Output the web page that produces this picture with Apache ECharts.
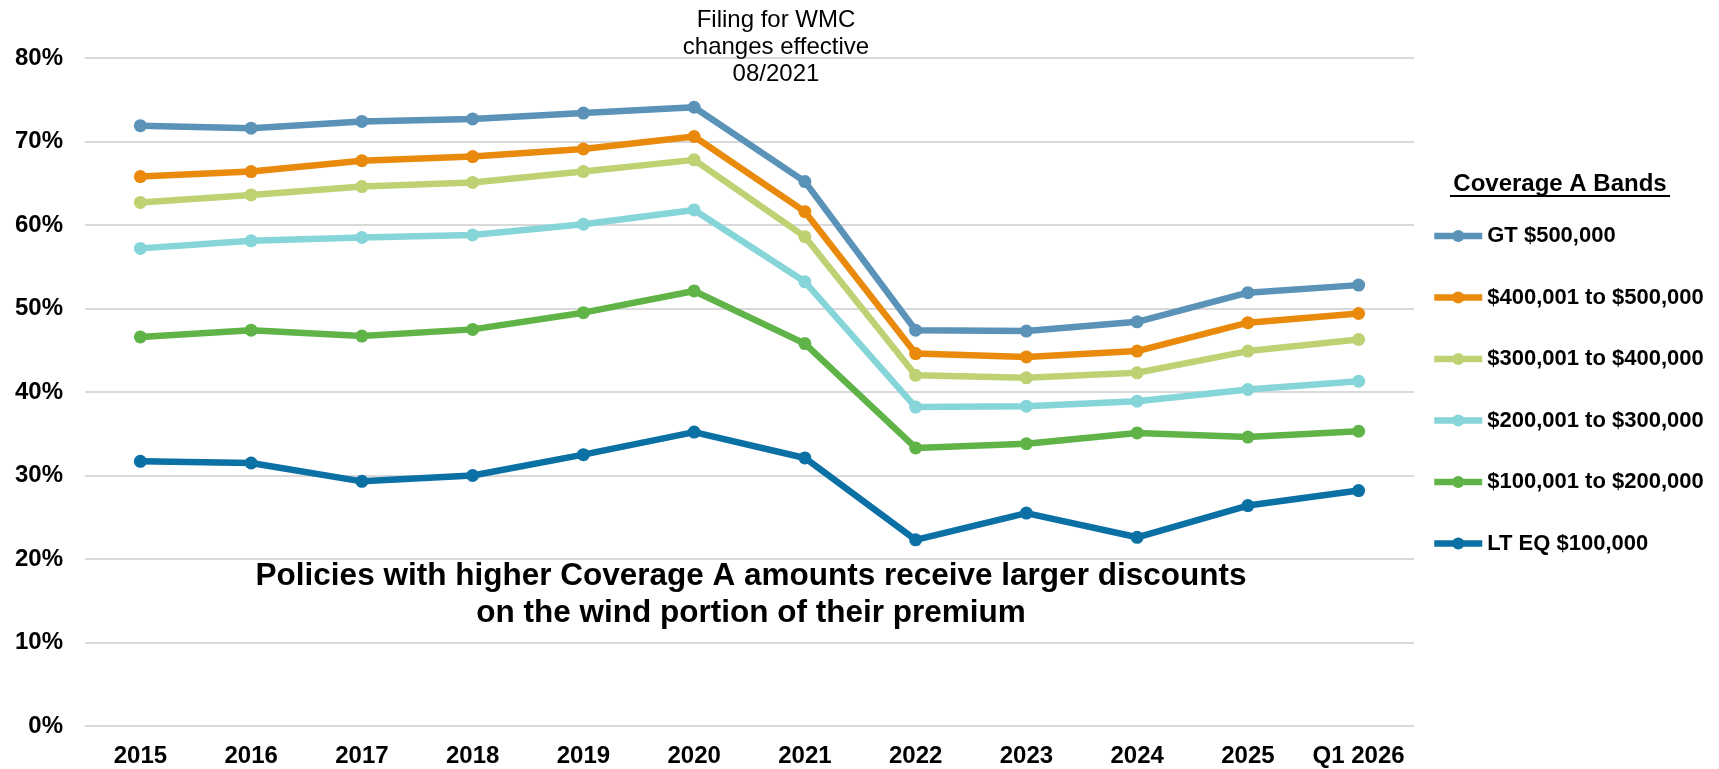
<!DOCTYPE html>
<html>
<head>
    <meta charset="utf-8">
    <title>Coverage A Bands</title>
    <script src="https://cdn.jsdelivr.net/npm/echarts@6/dist/echarts.min.js"></script>
    <style>
        html, body { margin: 0; padding: 0; background: #fff; }
        #main { width: 1719px; height: 769px; }
    </style>
</head>
<body>
<div id="main"></div>
<script type="text/javascript">
    // categories and series values (percent)
    var years = ['2015', '2016', '2017', '2018', '2019', '2020', '2021', '2022', '2023', '2024', '2025', 'Q1 2026'];
    var yTicks = [0, 10, 20, 30, 40, 50, 60, 70, 80];

    var bandNames = ['GT $500,000', '$400,001 to $500,000', '$300,001 to $400,000',
        '$200,001 to $300,000', '$100,001 to $200,000', 'LT EQ $100,000'];

    var gt500 = [71.9, 71.6, 72.4, 72.7, 73.4, 74.1, 65.2, 47.4, 47.3, 48.4, 51.9, 52.8];
    var b400to500 = [65.8, 66.4, 67.7, 68.2, 69.1, 70.6, 61.6, 44.6, 44.2, 44.9, 48.3, 49.4];
    var b300to400 = [62.7, 63.6, 64.6, 65.1, 66.4, 67.8, 58.6, 42.0, 41.7, 42.3, 44.9, 46.3];
    var b200to300 = [57.2, 58.1, 58.5, 58.8, 60.1, 61.8, 53.2, 38.2, 38.3, 38.9, 40.3, 41.3];
    var b100to200 = [46.6, 47.4, 46.7, 47.5, 49.5, 52.1, 45.8, 33.3, 33.8, 35.1, 34.6, 35.3];
    var lte100 = [31.7, 31.5, 29.3, 30.0, 32.5, 35.2, 32.1, 22.3, 25.5, 22.6, 26.4, 28.2];

    var colors = ['#5b92b8', '#e98a0c', '#bed274', '#86d5d8', '#60b447', '#0b70a4'];
    var seriesData = [gt500, b400to500, b300to400, b200to300, b100to200, lte100];

    var font = 'Arial, "Liberation Sans", sans-serif';

    var myChart = echarts.init(document.getElementById('main'));

    var series = [];
    for (var i = 0; i < bandNames.length; i++) {
        series.push({
            name: bandNames[i],
            type: 'line',
            data: seriesData[i],
            symbol: 'circle',
            symbolSize: 13,
            color: colors[i],
            lineStyle: { width: 6.5, color: colors[i] },
            itemStyle: { color: colors[i] },
            emphasis: { disabled: true },
            z: 10 - i
        });
    }

    var option = {
        backgroundColor: '#fff',
        animation: false,
        textStyle: { fontFamily: font },
        grid: { left: 85, right: 305, top: 58, bottom: 43 },
        legend: {
            orient: 'vertical',
            left: 1426,
            top: 220,
            itemWidth: 48,
            itemHeight: 15,
            itemGap: 39.5,
            data: bandNames,
            lineStyle: { width: 6.5 },
            textStyle: { fontSize: 22, fontWeight: 'bold', color: '#000', fontFamily: font, lineHeight: 22 }
        },
        xAxis: {
            type: 'category',
            data: years,
            axisLine: { show: false },
            axisTick: { show: false },
            axisLabel: { interval: 0, fontSize: 24, fontWeight: 'bold', color: '#000', margin: 18, fontFamily: font }
        },
        yAxis: {
            type: 'value',
            min: yTicks[0],
            max: yTicks[yTicks.length - 1],
            interval: 10,
            axisLine: { show: false },
            axisTick: { show: false },
            splitLine: { lineStyle: { color: '#d9d9d9', width: 2 } },
            axisLabel: { fontSize: 24, fontWeight: 'bold', color: '#000', margin: 22, formatter: '{value}%', fontFamily: font }
        },
        graphic: [
            {
                type: 'text', z: 100,
                x: 776, y: 7,
                style: {
                    text: 'Filing for WMC\nchanges effective\n08/2021',
                    textAlign: 'center',
                    fontSize: 24, lineHeight: 27, fill: '#000', fontFamily: font
                }
            },
            {
                type: 'text', z: 100,
                x: 751, y: 558,
                style: {
                    text: 'Policies with higher Coverage A amounts receive larger discounts\non the wind portion of their premium',
                    textAlign: 'center',
                    fontSize: 31.5, fontWeight: 'bold', lineHeight: 37, fill: '#000', fontFamily: font
                }
            },
            {
                type: 'text', z: 100,
                x: 1560, y: 172,
                style: {
                    text: 'Coverage A Bands',
                    textAlign: 'center',
                    fontSize: 24, fontWeight: 'bold', fill: '#000', fontFamily: font
                }
            },
            {
                type: 'line', z: 100,
                shape: { x1: 1450, y1: 196, x2: 1670, y2: 196 },
                style: { stroke: '#000', lineWidth: 2 }
            }
        ],
        series: series
    };

    myChart.setOption(option);
</script>
</body>
</html>
